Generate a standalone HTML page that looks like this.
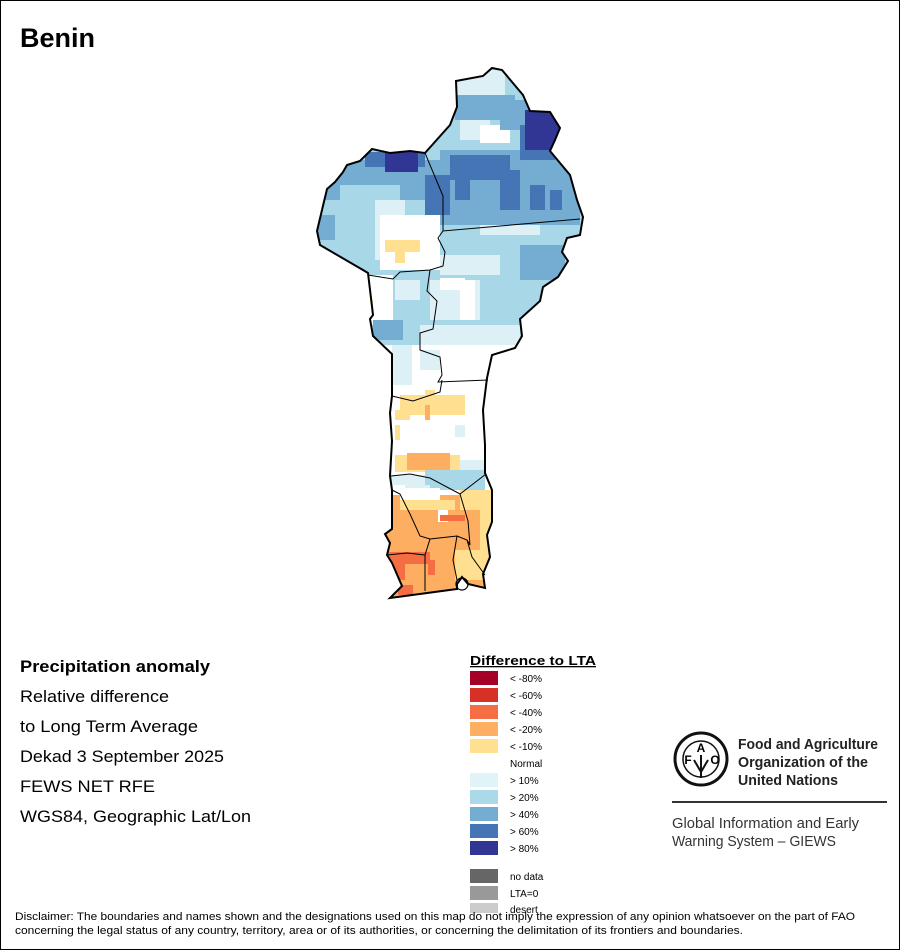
<!DOCTYPE html>
<html><head><meta charset="utf-8"><style>
html,body{margin:0;padding:0;background:#fff}
svg{display:block}
text{font-family:"Liberation Sans",sans-serif}
</style></head><body>
<svg width="900" height="950" viewBox="0 0 900 950" xmlns="http://www.w3.org/2000/svg">
<rect x="0.5" y="0.5" width="899" height="949" fill="#fff" stroke="#000" stroke-width="1"/>
<text x="20" y="47" font-size="27" font-weight="bold">Benin</text>
<defs>
<clipPath id="c"><path id="outline" d="M456,81 L483,76 L492,68 L502,70 L523,95 L530,111 L550,112 L560,128 L555,140 L550,151 L570,175 L577,200 L583,217 L580,235 L567,238 L562,252 L568,261 L558,277 L543,287 L540,301 L520,319 L522,336 L515,348 L492,355 L487,378 L483,410 L485,445 L485,473 L492,490 L492,522 L487,535 L490,557 L483,574 L485,588 L468,584 L462,577 L457,584 L457,589 L390,598 L402,586 L392,563 L387,555 L390,543 L385,534 L392,529 L392,490 L390,476 L392,441 L390,413 L392,396 L392,354 L373,336 L370,319 L373,315 L368,273 L363,270 L320,245 L317,231 L322,210 L327,189 L335,182 L343,172 L347,165 L360,161 L372,149 L390,153 L410,151 L425,153 L450,125 L457,107 Z"/></clipPath>
</defs>
<g clip-path="url(#c)">
<rect x="300" y="60" width="300" height="560" fill="#fff"/>
<rect x="300" y="60" width="300" height="290" fill="#a8d8e8"/>
<rect x="445" y="70" width="60" height="25" fill="#ddf0f6"/>
<rect x="460" y="112" width="30" height="28" fill="#ddf0f6"/>
<rect x="480" y="125" width="30" height="18" fill="#fff"/>
<rect x="455" y="95" width="60" height="25" fill="#74add1"/>
<rect x="500" y="100" width="30" height="30" fill="#74add1"/>
<rect x="440" y="150" width="140" height="75" fill="#74add1"/>
<rect x="320" y="160" width="120" height="40" fill="#74add1"/>
<rect x="315" y="215" width="20" height="25" fill="#74add1"/>
<rect x="450" y="155" width="60" height="25" fill="#4575b4"/>
<rect x="425" y="175" width="25" height="40" fill="#4575b4"/>
<rect x="455" y="180" width="15" height="20" fill="#4575b4"/>
<rect x="500" y="170" width="20" height="40" fill="#4575b4"/>
<rect x="520" y="125" width="35" height="35" fill="#4575b4"/>
<rect x="530" y="185" width="15" height="25" fill="#4575b4"/>
<rect x="550" y="190" width="12" height="20" fill="#4575b4"/>
<rect x="365" y="152" width="60" height="15" fill="#4575b4"/>
<rect x="525" y="110" width="35" height="40" fill="#313695"/>
<rect x="385" y="150" width="33" height="22" fill="#313695"/>
<rect x="340" y="185" width="60" height="50" fill="#a8d8e8"/>
<rect x="375" y="200" width="30" height="60" fill="#ddf0f6"/>
<rect x="380" y="215" width="60" height="55" fill="#fff"/>
<rect x="385" y="240" width="35" height="12" fill="#fee090"/>
<rect x="395" y="245" width="10" height="18" fill="#fee090"/>
<rect x="440" y="225" width="130" height="15" fill="#a8d8e8"/>
<rect x="480" y="225" width="60" height="10" fill="#ddf0f6"/>
<rect x="520" y="245" width="45" height="35" fill="#74add1"/>
<rect x="440" y="255" width="60" height="20" fill="#ddf0f6"/>
<rect x="430" y="280" width="50" height="40" fill="#ddf0f6"/>
<rect x="440" y="278" width="25" height="12" fill="#fff"/>
<rect x="460" y="280" width="15" height="40" fill="#fff"/>
<rect x="368" y="275" width="25" height="50" fill="#fff"/>
<rect x="373" y="320" width="30" height="20" fill="#74add1"/>
<rect x="395" y="280" width="25" height="20" fill="#ddf0f6"/>
<rect x="368" y="300" width="5" height="15" fill="#fee090"/>
<rect x="420" y="325" width="100" height="25" fill="#ddf0f6"/>
<rect x="300" y="345" width="300" height="50" fill="#fff"/>
<rect x="392" y="345" width="20" height="40" fill="#ddf0f6"/>
<rect x="420" y="350" width="20" height="20" fill="#ddf0f6"/>
<rect x="400" y="395" width="65" height="20" fill="#fee090"/>
<rect x="425" y="390" width="10" height="10" fill="#fee090"/>
<rect x="425" y="405" width="5" height="15" fill="#fdae61"/>
<rect x="395" y="410" width="15" height="10" fill="#fee090"/>
<rect x="395" y="425" width="5" height="15" fill="#fee090"/>
<rect x="455" y="425" width="10" height="12" fill="#ddf0f6"/>
<rect x="395" y="455" width="65" height="17" fill="#fee090"/>
<rect x="407" y="453" width="43" height="17" fill="#fdae61"/>
<rect x="460" y="460" width="25" height="12" fill="#ddf0f6"/>
<rect x="425" y="470" width="60" height="20" fill="#a8d8e8"/>
<rect x="390" y="475" width="35" height="10" fill="#ddf0f6"/>
<rect x="405" y="485" width="25" height="8" fill="#ddf0f6"/>
<rect x="385" y="495" width="110" height="105" fill="#fdae61"/>
<rect x="400" y="488" width="40" height="12" fill="#fff"/>
<rect x="400" y="500" width="55" height="10" fill="#fee090"/>
<rect x="460" y="490" width="35" height="20" fill="#fee090"/>
<rect x="480" y="500" width="15" height="50" fill="#fee090"/>
<rect x="455" y="550" width="40" height="30" fill="#fee090"/>
<rect x="438" y="510" width="10" height="12" fill="#fff"/>
<rect x="440" y="515" width="25" height="6" fill="#f46d43"/>
<rect x="385" y="552" width="45" height="12" fill="#f46d43"/>
<rect x="390" y="560" width="15" height="20" fill="#f46d43"/>
<rect x="398" y="585" width="15" height="10" fill="#f46d43"/>
<rect x="428" y="560" width="7" height="15" fill="#f46d43"/>
</g>
<circle cx="462" cy="584" r="6" fill="#fff" stroke="#000" stroke-width="1.2"/>
<use href="#outline" fill="none" stroke="#000" stroke-width="2"/>
<g fill="none" stroke="#000" stroke-width="1">
<path d="M425,153 L443,196 L443,231 L580,219"/>
<path d="M368,275 L393,279 L400,272 L430,270 L443,266 L445,252 L438,238 L443,231"/>
<path d="M430,270 L427,291 L437,301 L433,329 L420,333 L420,350 L440,357 L442,375 L438,382 L488,380"/>
<path d="M392,396 L413,401 L440,392 L442,380"/>
<path d="M391,476 L410,474 L430,478 L460,494 L486,474"/>
<path d="M392,490 L400,494 L410,514 L420,536 L430,539 L457,536 L467,540 L472,557 L485,575"/>
<path d="M460,494 L468,521 L470,545 L467,540"/>
<path d="M387,555 L407,553 L425,555 L425,591"/>
<path d="M430,539 L425,555"/>
<path d="M457,536 L453,560 L457,580"/>
</g>
<g font-size="17">
<text x="20" y="672" font-weight="bold" textLength="190" lengthAdjust="spacingAndGlyphs">Precipitation anomaly</text>
<text x="20" y="702" textLength="149" lengthAdjust="spacingAndGlyphs">Relative difference</text>
<text x="20" y="732" textLength="178" lengthAdjust="spacingAndGlyphs">to Long Term Average</text>
<text x="20" y="762" textLength="204" lengthAdjust="spacingAndGlyphs">Dekad 3 September 2025</text>
<text x="20" y="792" textLength="135" lengthAdjust="spacingAndGlyphs">FEWS NET RFE</text>
<text x="20" y="822" textLength="231" lengthAdjust="spacingAndGlyphs">WGS84, Geographic Lat/Lon</text>
</g>
<text x="470" y="665" font-size="13" font-weight="bold" text-decoration="underline" textLength="126" lengthAdjust="spacingAndGlyphs">Difference to LTA</text>
<g>
<rect x="470" y="671" width="28" height="14" fill="#a50026"/>
<rect x="470" y="688" width="28" height="14" fill="#d73027"/>
<rect x="470" y="705" width="28" height="14" fill="#f46d43"/>
<rect x="470" y="722" width="28" height="14" fill="#fdae61"/>
<rect x="470" y="739" width="28" height="14" fill="#fee090"/>
<rect x="470" y="773" width="28" height="14" fill="#e0f3f8"/>
<rect x="470" y="790" width="28" height="14" fill="#abd9e9"/>
<rect x="470" y="807" width="28" height="14" fill="#74add1"/>
<rect x="470" y="824" width="28" height="14" fill="#4575b4"/>
<rect x="470" y="841" width="28" height="14" fill="#313695"/>
<rect x="470" y="869" width="28" height="14" fill="#666"/>
<rect x="470" y="886" width="28" height="14" fill="#999"/>
<rect x="470" y="903" width="28" height="10" fill="#ccc"/>
</g>
<g font-size="10">
<text x="510" y="682">&lt; -80%</text>
<text x="510" y="699">&lt; -60%</text>
<text x="510" y="716">&lt; -40%</text>
<text x="510" y="733">&lt; -20%</text>
<text x="510" y="750">&lt; -10%</text>
<text x="510" y="767">Normal</text>
<text x="510" y="784">&gt; 10%</text>
<text x="510" y="801">&gt; 20%</text>
<text x="510" y="818">&gt; 40%</text>
<text x="510" y="835">&gt; 60%</text>
<text x="510" y="852">&gt; 80%</text>
<text x="510" y="880">no data</text>
<text x="510" y="897">LTA=0</text>
<text x="510" y="913">desert</text>
</g>
<g>
<circle cx="701" cy="759" r="26" fill="none" stroke="#111" stroke-width="3"/>
<circle cx="701" cy="759" r="18" fill="none" stroke="#111" stroke-width="1.5"/>
<text x="701" y="752" font-size="12" font-weight="bold" text-anchor="middle">A</text>
<text x="688" y="764" font-size="12" font-weight="bold" text-anchor="middle">F</text>
<text x="715" y="764" font-size="12" font-weight="bold" text-anchor="middle">O</text>
<path d="M701,755 L701,778 M694,760 L701,772 L708,760" stroke="#111" stroke-width="2" fill="none"/>
</g>
<g font-size="15" font-weight="bold" fill="#222">
<text x="738" y="749" textLength="140" lengthAdjust="spacingAndGlyphs">Food and Agriculture</text>
<text x="738" y="767" textLength="130" lengthAdjust="spacingAndGlyphs">Organization of the</text>
<text x="738" y="785" textLength="100" lengthAdjust="spacingAndGlyphs">United Nations</text>
</g>
<line x1="672" y1="802" x2="887" y2="802" stroke="#333" stroke-width="2"/>
<g font-size="15" fill="#333">
<text x="672" y="828" textLength="187" lengthAdjust="spacingAndGlyphs">Global Information and Early</text>
<text x="672" y="846" textLength="164" lengthAdjust="spacingAndGlyphs">Warning System – GIEWS</text>
</g>
<g font-size="11">
<text x="15" y="920" textLength="840" lengthAdjust="spacingAndGlyphs">Disclaimer: The boundaries and names shown and the designations used on this map do not imply the expression of any opinion whatsoever on the part of FAO</text>
<text x="15" y="934" textLength="728" lengthAdjust="spacingAndGlyphs">concerning the legal status of any country, territory, area or of its authorities, or concerning the delimitation of its frontiers and boundaries.</text>
</g>
</svg>
</body></html>
